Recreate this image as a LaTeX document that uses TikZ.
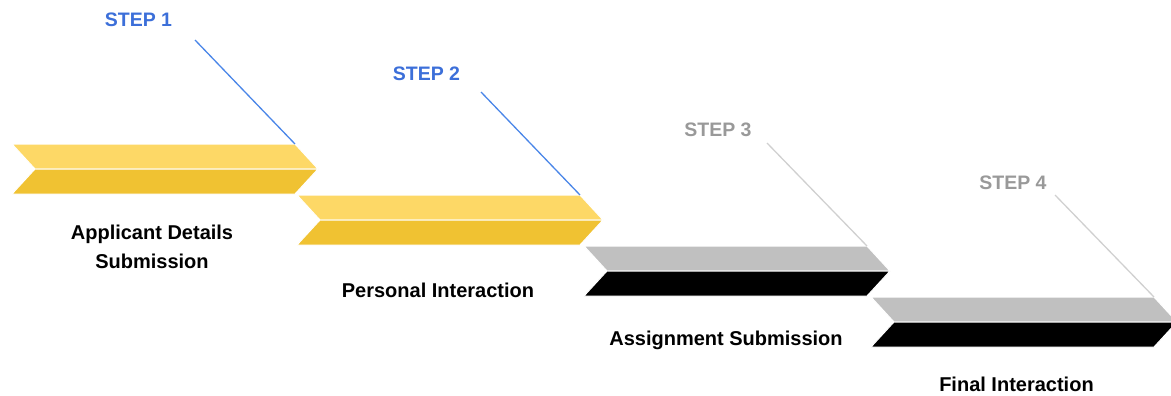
\documentclass[tikz,border=0pt]{standalone}
\usepackage{fontspec}
\setmainfont{Liberation Sans}
\definecolor{ylight}{HTML}{FDD866}
\definecolor{ydark}{HTML}{F0C232}
\definecolor{glight}{HTML}{C0C0C0}
\definecolor{gdark}{HTML}{000000}
\definecolor{stepblue}{HTML}{3C6FD9}
\definecolor{lineblue}{HTML}{4A86E8}
\definecolor{stepgray}{HTML}{999999}
\definecolor{linegray}{HTML}{D0D0D0}
\tikzset{
  band/.style={draw=white, line width=1pt, line join=miter},
  steplabel/.style={font=\bfseries\fontsize{19.5}{22}\selectfont, inner sep=0pt, anchor=center},
  desclabel/.style={font=\bfseries\fontsize{20}{29}\selectfont, inner sep=0pt, align=center, anchor=center},
  leader/.style={line width=1.3pt}
}
\newcommand{\chevron}[4]{%
  % #1 x0, #2 y0, #3 top colour, #4 bottom colour
  \fill[#3, band] (#1,#2) -- ++(283,0) -- ++(23,25) -- ++(-283,0) -- cycle;
  \fill[#4, band] (#1+23,#2+25) -- ++(283,0) -- ++(-23,25) -- ++(-283,0) -- cycle;
  \coordinate (tr#1) at (#1+283,#2);
}
\begin{document}
\begin{tikzpicture}[x=1pt,y=-1pt]
\useasboundingbox (0,0) rectangle (1171,396);
\clip (0,0) rectangle (1171,396);
\chevron{12}{144}{ylight}{ydark}
\chevron{297}{195}{ylight}{ydark}
\chevron{584}{246}{glight}{gdark}
\chevron{871}{297}{glight}{gdark}
\node[steplabel, text=stepblue] (s1) at (138.5,19.5) {STEP 1};
\node[steplabel, text=stepblue] (s2) at (426.5,73.5) {STEP 2};
\node[steplabel, text=stepgray] (s3) at (718,130) {STEP 3};
\node[steplabel, text=stepgray] (s4) at (1013,183) {STEP 4};
\coordinate (l1) at (195,40);
\coordinate (l2) at (481,92);
\coordinate (l3) at (767,143);
\coordinate (l4) at (1055,195);
\draw[leader, lineblue] (l1) -- (tr12);
\draw[leader, lineblue] (l2) -- (tr297);
\draw[leader, linegray] (l3) -- (tr584);
\draw[leader, linegray] (l4) -- (tr871);
\node[desclabel] (d1) at (152,246.5) {Applicant Details\\Submission};
\node[desclabel] (d2) at (438,290) {Personal Interaction};
\node[desclabel] (d3) at (726,340) {Assignment Submission};
\node[desclabel] (d4) at (1016.5,384) {Final Interaction};
\end{tikzpicture}
\end{document}
